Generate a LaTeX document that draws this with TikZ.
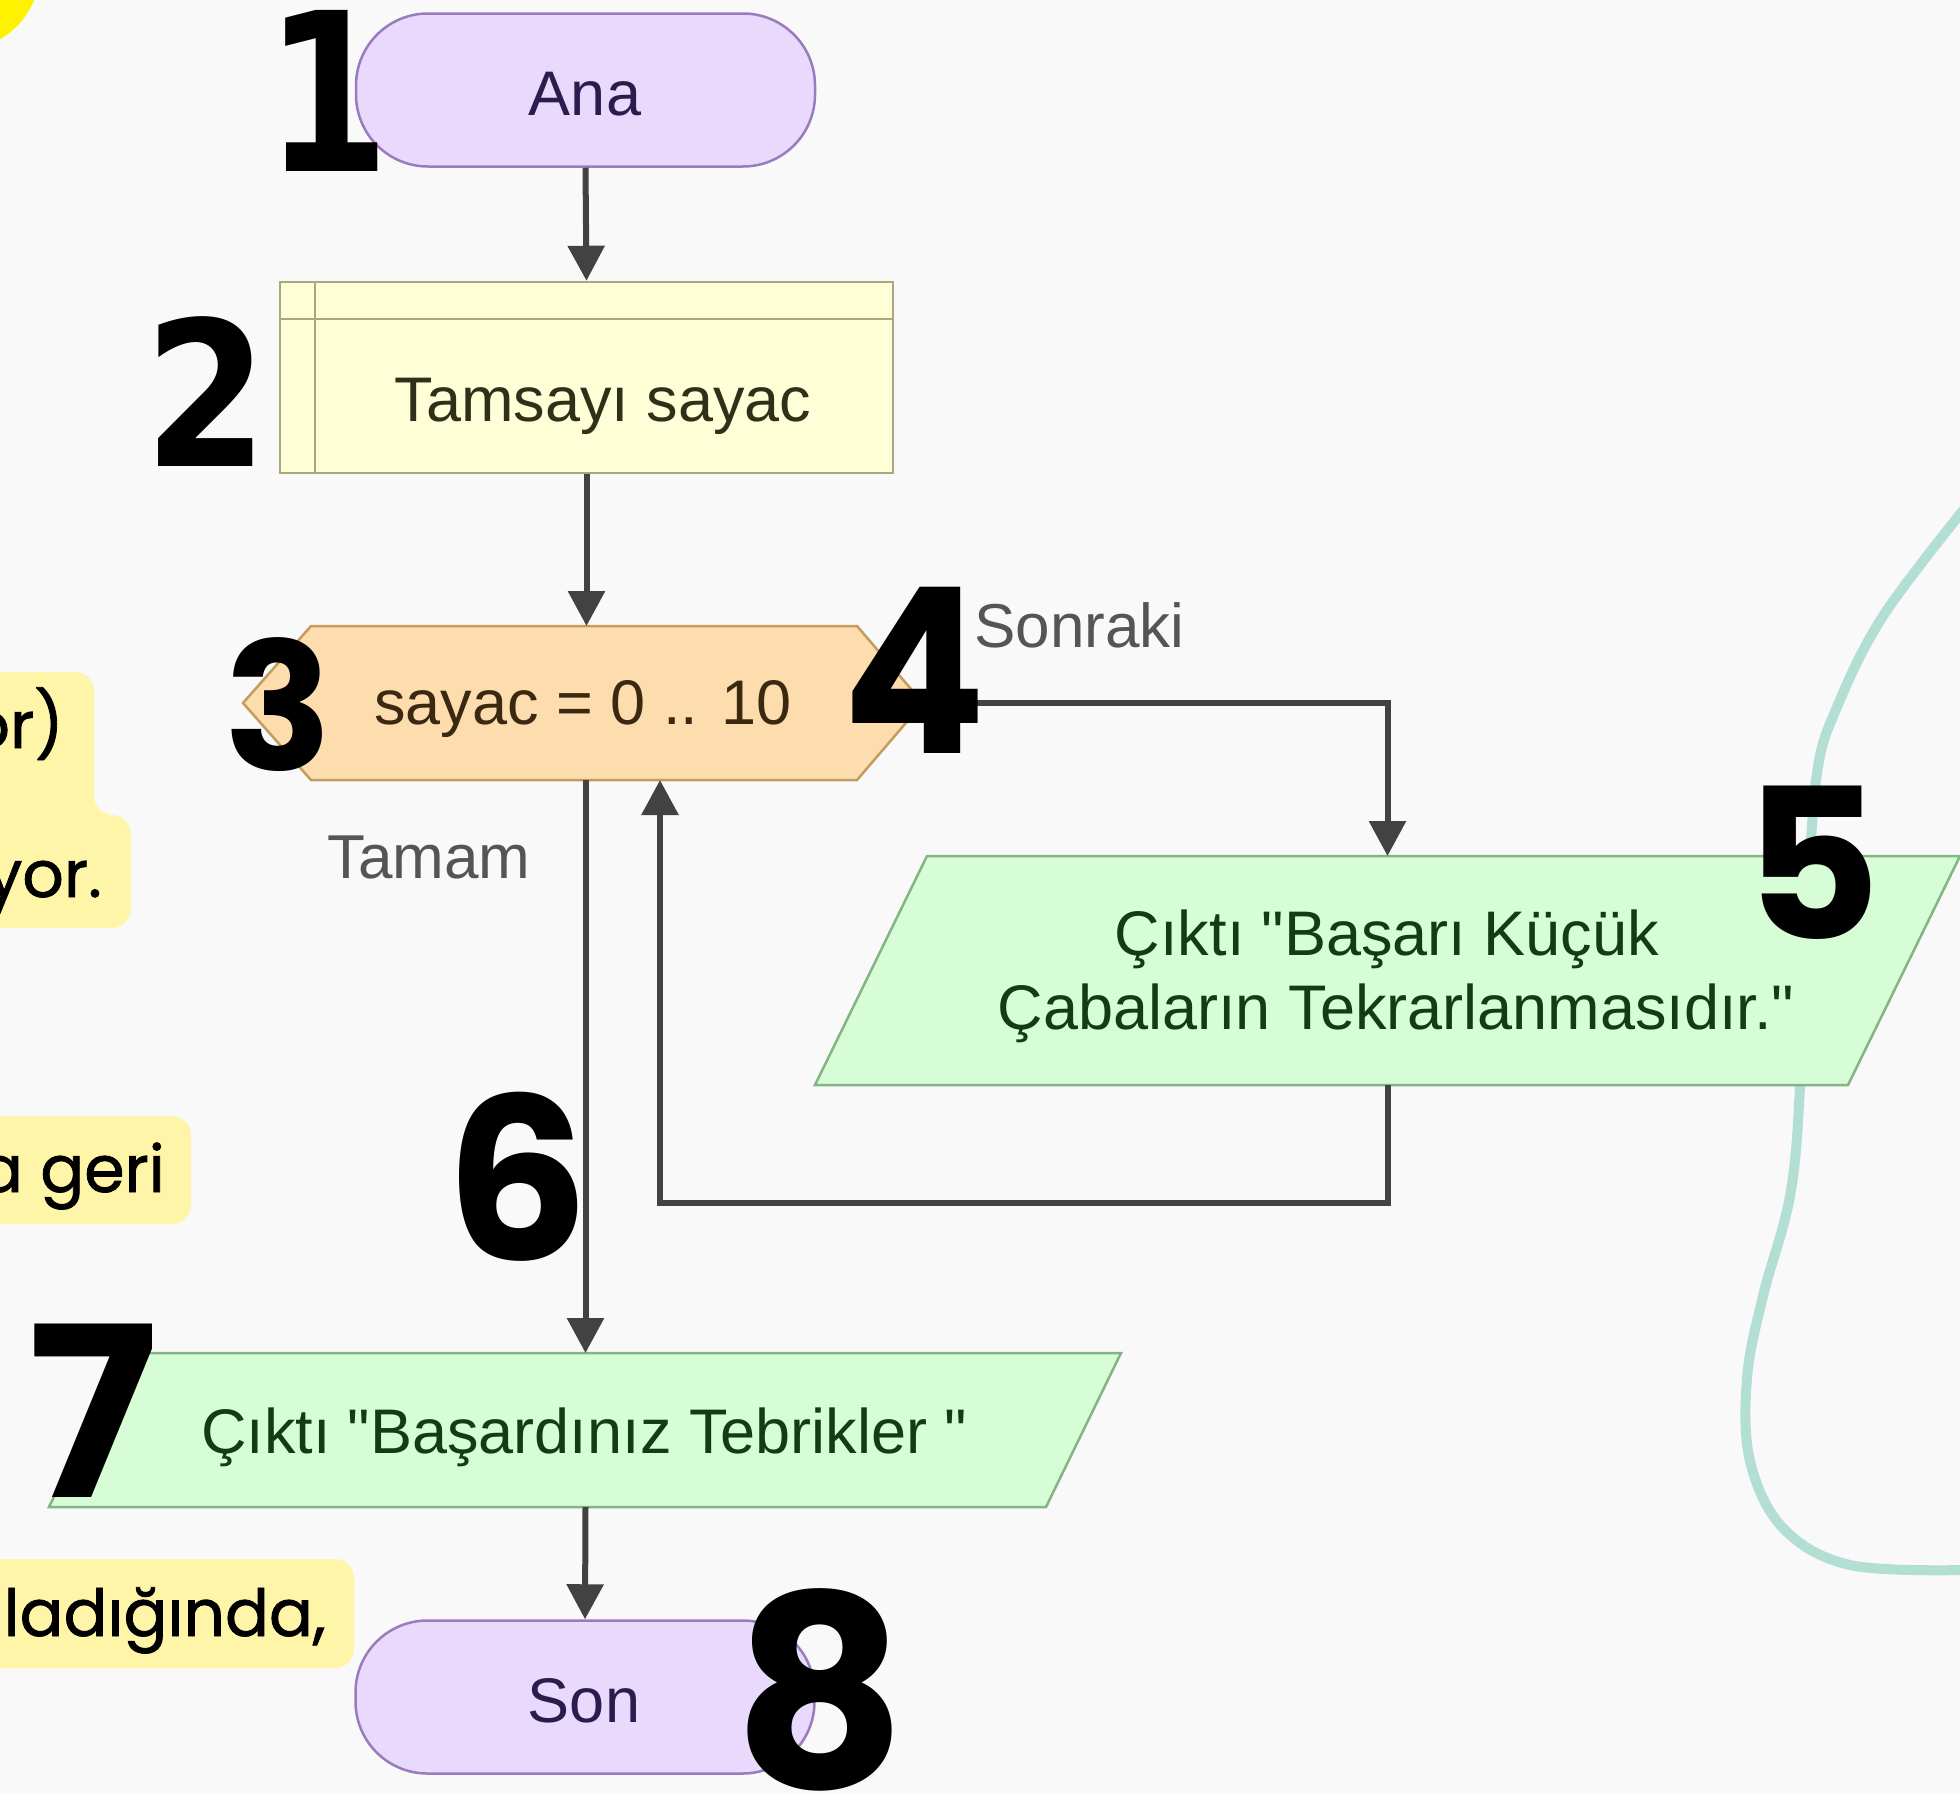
\documentclass[tikz,border=0pt]{standalone}
\usepackage{fontspec}
\setmainfont{Liberation Sans}[Ligatures=TeXOff]
\newfontfamily\popfont{Poppins}
\newfontfamily\popmed{Poppins}[FakeBold=1.2]
\newfontfamily\djfont{DejaVu Sans}
\newcommand\dq{"}
\usetikzlibrary{arrows.meta}
\definecolor{bg}{HTML}{F9F9F9}
\definecolor{termfill}{HTML}{E9DAFD}
\definecolor{termline}{HTML}{9A7CBE}
\definecolor{termtext}{HTML}{2A1C4C}
\definecolor{declfill}{HTML}{FFFFD7}
\definecolor{declline}{HTML}{A8A87C}
\definecolor{decltext}{HTML}{30301A}
\definecolor{hexfill}{HTML}{FDDCAD}
\definecolor{hexline}{HTML}{C49C5E}
\definecolor{hextext}{HTML}{3A2810}
\definecolor{outfill}{HTML}{D6FDD6}
\definecolor{outline}{HTML}{84B484}
\definecolor{outtext}{HTML}{143C14}
\definecolor{conncol}{HTML}{424242}
\definecolor{graytext}{HTML}{555555}
\definecolor{teal}{HTML}{B2DED4}
\definecolor{hl}{HTML}{FFF5A8}
\definecolor{yel}{HTML}{FFF200}
\begin{document}
\begin{tikzpicture}[x=1pt,y=-1pt,
  term/.style={draw=termline, fill=termfill, line width=2.5pt, rounded corners=72pt,
    minimum width=459pt, minimum height=153pt, inner sep=0pt},
  declbox/.style={draw=declline, fill=declfill, line width=2.5pt,
    minimum width=613pt, minimum height=191pt, inner sep=0pt},
  holder/.style={draw=none, inner sep=0pt, outer sep=0pt},
  hexstyle/.style={draw=hexline, fill=hexfill, line width=2.5pt},
  outstyle/.style={draw=outline, fill=outfill, line width=2.5pt},
  conn/.style={draw=conncol, line width=6pt, -{Triangle[length=35pt,width=36pt]}},
  lbl/.style={inner sep=0pt, font=\fontsize{63}{74}\selectfont},
  side/.style={inner sep=0pt, text=graytext, font=\fontsize{62}{74}\selectfont},
  hltext/.style={inner sep=0pt, text=black, font=\popmed\fontsize{65}{70}\selectfont, anchor=base east},
  bignum/.style={inner sep=0pt, text=black}
]
\useasboundingbox (0,0) rectangle (1960,1794);
\fill[bg] (0,0) rectangle (1960,1794);

% decorative background
\fill[yel] (-40,-30) circle (80);
\draw[teal, line width=10pt, line cap=round] plot[smooth, tension=0.6] coordinates {
  (1965,508) (1883,616) (1837,707) (1817,773) (1808,900) (1800,1088) (1790,1196)
  (1763,1296) (1747,1378) (1750,1461) (1783,1528) (1850,1565) (1965,1570)};

\fill[hl, rounded corners=19pt] (-30,672) -- (94,672) -- (94,815) -- (131,815) -- (131,928) -- (-30,928) -- cycle;
\fill[hl, rounded corners=19pt] (-30,1116) rectangle (191,1224);
\fill[hl, rounded corners=19pt] (-30,1559) rectangle (354,1668);
\node[hltext] (h1) at (64,748) {or)};
\node[hltext] (h2) at (102,897) {yor.};
\node[hltext] (h3) at (165,1192) {a geri};
\node[hltext] (h4) at (326,1636) {ladığında,};

% shapes
\node[term] (ana) at (585.5,90) {};
\node[declbox] (decl) at (586.5,377.5) {};
\draw[draw=declline, line width=2.5pt] ([xshift=36pt]decl.north west) -- ([xshift=36pt]decl.south west);
\draw[draw=declline, line width=2.5pt] ([yshift=-38pt]decl.north west) -- ([yshift=-38pt]decl.north east);

\node[holder, minimum width=680pt, minimum height=154pt] (loop) at (583,703) {};
\draw[hexstyle] (loop.west) -- ([xshift=68pt]loop.north west) -- ([xshift=-66pt]loop.north east)
  -- (loop.east) -- ([xshift=-66pt]loop.south east) -- ([xshift=68pt]loop.south west) -- cycle;

\node[holder, minimum width=1145pt, minimum height=229pt] (out1) at (1387.5,970.5) {};
\draw[outstyle] ([xshift=112pt]out1.north west) -- (out1.north east)
  -- ([xshift=-112pt]out1.south east) -- (out1.south west) -- cycle;

\node[holder, minimum width=1072pt, minimum height=154pt] (out2) at (585,1430) {};
\draw[outstyle] ([xshift=75pt]out2.north west) -- (out2.north east)
  -- ([xshift=-75pt]out2.south east) -- (out2.south west) -- cycle;

\node[term] (son) at (585,1697) {};

% connectors
\draw[conn] (ana.south) -- (decl.north);
\draw[conn] (decl.south) -- (decl.south |- loop.north);
\draw[conn] (loop.east) -| (out1.north);
\coordinate (back) at (660,1203);
\draw[conn] (out1.south) |- (back) -- (back |- loop.south);
\draw[conn] (ana.south |- loop.south) -- (ana.south |- out2.north);
\draw[conn] (out2.south -| ana.south) -- (son.north);

% labels
\node[lbl, text=termtext, anchor=base] (tana) at (585,115) {Ana};
\node[lbl, text=decltext, anchor=base] (tdecl) at (603,421) {Tamsayı sayac};
\node[lbl, text=hextext, anchor=base] (tloop) at (583,724) {sayac = 0 .. 10};
\node[side, anchor=base west] (tnext) at (974,647) {Sonraki};
\node[side, anchor=base west] (tdone) at (327,878) {Tamam};
\node[lbl, text=outtext, anchor=base] (tout1a) at (1387,955) {Çıktı \dq Başarı Küçük};
\node[lbl, text=outtext, anchor=base] (tout1b) at (1396,1029) {Çabaların Tekrarlanmasıdır.\dq};
\node[lbl, text=outtext, anchor=base] (tout2) at (584,1453) {Çıktı \dq Başardınız Tebrikler \dq};
\node[lbl, text=termtext, anchor=base] (tson) at (584,1722) {Son};

% big step numbers
\node[bignum, xscale=0.81] (n1) at (328,91) {\djfont\bfseries\fontsize{221}{221}\selectfont 1};
\node[bignum, xscale=0.88] (n2) at (206,392) {\djfont\bfseries\fontsize{202}{202}\selectfont 2};
\node[bignum] (n3) at (278,705) {\popfont\bfseries\fontsize{178}{178}\selectfont 3};
\node[bignum, xscale=0.92] (n4) at (914,670) {\popfont\bfseries\fontsize{231}{231}\selectfont 4};
\node[bignum] (n5) at (1813,863) {\popfont\bfseries\fontsize{210}{210}\selectfont 5};
\node[bignum] (n6) at (517,1177) {\popfont\bfseries\fontsize{226}{226}\selectfont 6};
\node[bignum, xscale=0.9] (n7) at (95,1411) {\djfont\bfseries\fontsize{238}{238}\selectfont 7};
\node[bignum] (n8) at (820,1690) {\popfont\bfseries\fontsize{267}{267}\selectfont 8};
\end{tikzpicture}
\end{document}
